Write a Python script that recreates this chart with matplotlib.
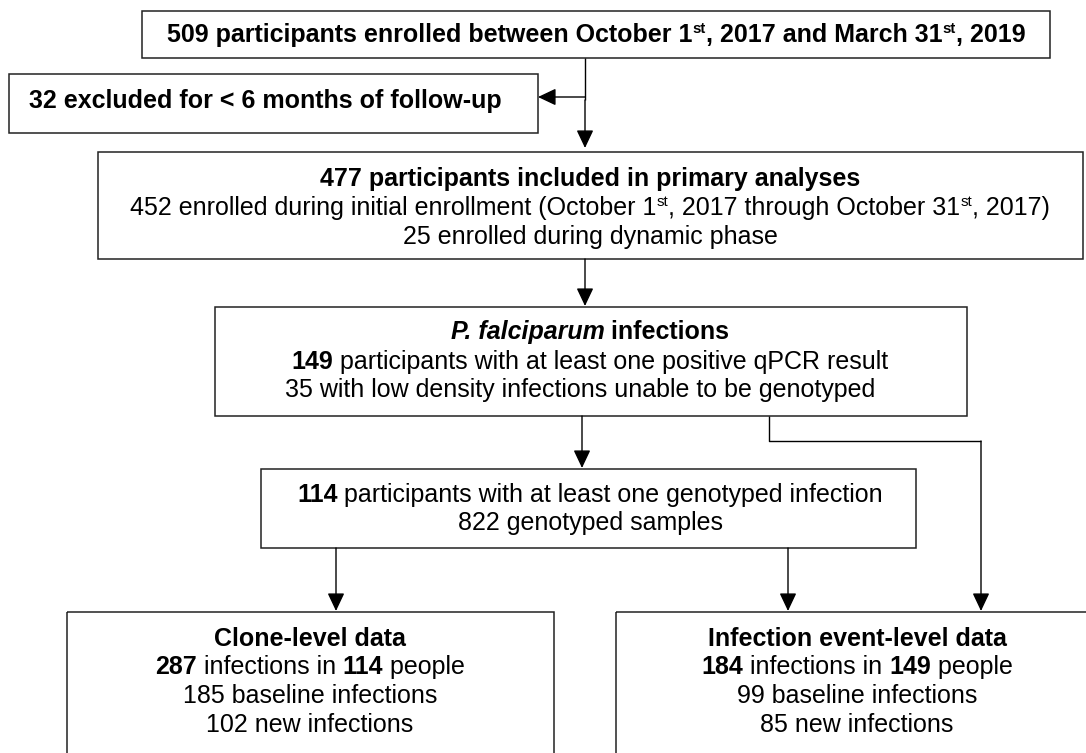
import matplotlib
matplotlib.use('Agg')
import matplotlib.pyplot as plt
from matplotlib.patches import Rectangle

plt.rcParams['font.family'] = ['Liberation Sans', 'DejaVu Sans']

# flow counts
enrolled = 509
excluded = 32
included = 477
initial_phase = 452
dynamic_phase = 25
qpcr_positive = 149
low_density = 35
genotyped_people = 114
genotyped_samples = 822
clone_counts = [287, 114, 185, 102]   # infections, people, baseline, new
event_counts = [184, 149, 99, 85]

W, H = 1086, 753
FS = 18

fig = plt.figure(figsize=(W / 100, H / 100), dpi=100)
ax = fig.add_axes([0, 0, 1, 1])
ax.set_xlim(0, W)
ax.set_ylim(H, 0)
ax.axis('off')
rend = fig.canvas.get_renderer()


def text_width(txt, **kw):
    # pad with bars so leading / trailing spaces count
    t1 = ax.text(0, 0, '|' + txt + '|', **kw)
    t2 = ax.text(0, 0, '||', **kw)
    w = t1.get_window_extent(rend).width - t2.get_window_extent(rend).width
    t1.remove()
    t2.remove()
    return w


def draw_line(x, y, parts, ha='center'):
    # parts: (text, style) with style letters b=bold, i=italic, s=superscript
    items = []
    total = 0
    for txt, st in parts:
        kw = dict(fontsize=FS * 0.6 if 's' in st else FS,
                  fontweight='bold' if 'b' in st else 'normal',
                  fontstyle='italic' if 'i' in st else 'normal')
        w = text_width(txt, **kw)
        items.append((txt, st, kw, w))
        total += w
    x0 = x - total / 2 if ha == 'center' else x
    for txt, st, kw, w in items:
        dy = -9 if 's' in st else 0
        ax.text(x0, y + 8 + dy, txt, va='baseline', ha='left', color='black', **kw)
        x0 += w


def box(x0, y0, x1, y1):
    ax.add_patch(Rectangle((x0, y0), x1 - x0, y1 - y0, fill=False,
                           edgecolor='#222222', lw=1.1))


def arrow(x0, y0, x1, y1):
    ax.annotate('', xy=(x1, y1), xytext=(x0, y0),
                arrowprops=dict(arrowstyle='-|>,head_length=0.55,head_width=0.26',
                                mutation_scale=20, lw=1.0, color='black',
                                shrinkA=0, shrinkB=0))


def seg(xs, ys):
    ax.plot(xs, ys, color='black', lw=1.0, solid_capstyle='butt')


# box 1
box(142, 11, 1050, 58)
draw_line(596, 34, [(f'{enrolled} participants enrolled between October 1', 'b'), ('st', 'bs'),
                    (', 2017 and March 31', 'b'), ('st', 'bs'), (', 2019', 'b')])

# excluded
box(9, 74, 538, 133)
draw_line(29, 100, [(f'{excluded} excluded for < 6 months of follow-up', 'b')], ha='left')
seg([585, 585], [58, 100])
arrow(585, 97, 538, 97)
arrow(585, 100, 585, 148)

# box 2
box(98, 152, 1083, 259)
draw_line(590, 178, [(f'{included} participants included in primary analyses', 'b')])
draw_line(590, 207, [(f'{initial_phase} enrolled during initial enrollment (October 1', ''), ('st', 's'),
                     (', 2017 through October 31', ''), ('st', 's'), (', 2017)', '')])
draw_line(590, 236, [(f'{dynamic_phase} enrolled during dynamic phase', '')])
arrow(585, 259, 585, 306)

# box 3
box(215, 307, 967, 416)
draw_line(590, 331, [('P. falciparum', 'bi'), (' infections', 'b')])
draw_line(590, 361, [(str(qpcr_positive), 'b'), (' participants with at least one positive qPCR result', '')])
draw_line(580, 389, [(f'{low_density} with low density infections unable to be genotyped', '')])
arrow(582, 416, 582, 468)
seg([769, 769, 981], [416, 441, 441])
arrow(981, 441, 981, 611)

# box 4
box(261, 469, 916, 548)
draw_line(590, 494, [(str(genotyped_people), 'b'), (' participants with at least one genotyped infection', '')])
draw_line(590, 522, [(f'{genotyped_samples} genotyped samples', '')])
arrow(336, 548, 336, 611)
arrow(788, 548, 788, 611)

# box 5 - clone level
box(67, 612, 554, 780)
c = clone_counts
draw_line(310, 638, [('Clone-level data', 'b')])
draw_line(310, 666, [(str(c[0]), 'b'), (' infections in ', ''), (str(c[1]), 'b'), (' people', '')])
draw_line(310, 695, [(f'{c[2]} baseline infections', '')])
draw_line(310, 724, [(f'{c[3]} new infections', '')])

# box 6 - infection event level
box(616, 612, 1100, 780)
e = event_counts
draw_line(857, 638, [('Infection event-level data', 'b')])
draw_line(857, 666, [(str(e[0]), 'b'), (' infections in ', ''), (str(e[1]), 'b'), (' people', '')])
draw_line(857, 695, [(f'{e[2]} baseline infections', '')])
draw_line(857, 724, [(f'{e[3]} new infections', '')])

fig.savefig('out.png', dpi=100, facecolor='white')
